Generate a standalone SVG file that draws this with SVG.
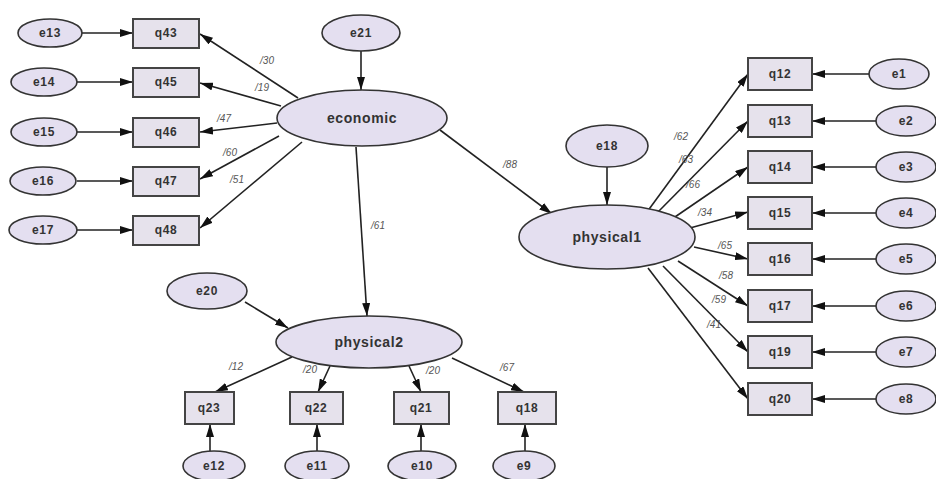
<svg xmlns="http://www.w3.org/2000/svg" width="936" height="479" viewBox="0 0 936 479">
<defs>
<marker id="ah" markerWidth="13" markerHeight="8" refX="13" refY="4" orient="auto" markerUnits="userSpaceOnUse">
<path d="M0,0 L13,4 L0,8 z" fill="#111"/>
</marker>
<style>
.lat{fill:#e4dff0;stroke:#333;stroke-width:1.6}
.obs{fill:#e6e2ec;stroke:#444;stroke-width:2}
.t{font-family:"Liberation Sans",Arial,sans-serif;font-weight:bold;font-size:12px;letter-spacing:0.6px;fill:#333;text-anchor:middle;dominant-baseline:central}
.big{font-size:14px}
.lbl{font-family:"Liberation Sans",Arial,sans-serif;font-style:italic;font-size:10px;fill:#555;text-anchor:middle}
.c line{stroke:#222;stroke-width:1.6;marker-end:url(#ah)}
</style>
</defs>
<rect width="936" height="479" fill="#fff"/>
<g class="c" id="connectors">
<line x1="82" y1="33" x2="133" y2="33"/>
<line x1="77" y1="82" x2="133" y2="82"/>
<line x1="77" y1="132" x2="133" y2="132"/>
<line x1="77" y1="181" x2="133" y2="181"/>
<line x1="77" y1="230" x2="133" y2="230"/>
<line x1="298" y1="98" x2="200" y2="34"/>
<line x1="281" y1="106" x2="200" y2="83"/>
<line x1="277" y1="123" x2="200" y2="132"/>
<line x1="279" y1="136" x2="200" y2="179"/>
<line x1="302" y1="142" x2="200" y2="228"/>
<line x1="361" y1="51" x2="361" y2="90"/>
<line x1="440" y1="130" x2="552" y2="214"/>
<line x1="356" y1="147" x2="367" y2="316"/>
<line x1="607" y1="167" x2="607" y2="205"/>
<line x1="647" y1="212" x2="748" y2="74"/>
<line x1="656" y1="214" x2="748" y2="121"/>
<line x1="672" y1="219" x2="748" y2="167"/>
<line x1="690" y1="228" x2="748" y2="212"/>
<line x1="694" y1="247" x2="748" y2="259"/>
<line x1="678" y1="261" x2="748" y2="306"/>
<line x1="663" y1="266" x2="748" y2="352"/>
<line x1="648" y1="268" x2="748" y2="399"/>
<line x1="869" y1="74" x2="812" y2="74"/>
<line x1="876" y1="121" x2="812" y2="121"/>
<line x1="876" y1="167" x2="812" y2="167"/>
<line x1="876" y1="213" x2="812" y2="213"/>
<line x1="876" y1="259" x2="812" y2="259"/>
<line x1="876" y1="306" x2="812" y2="306"/>
<line x1="876" y1="352" x2="812" y2="352"/>
<line x1="876" y1="399" x2="812" y2="399"/>
<line x1="245" y1="302" x2="288" y2="328"/>
<line x1="292" y1="357" x2="215" y2="392"/>
<line x1="330" y1="366" x2="318" y2="392"/>
<line x1="409" y1="366" x2="421" y2="392"/>
<line x1="452" y1="358" x2="524" y2="392"/>
<line x1="210" y1="451" x2="210" y2="424"/>
<line x1="317" y1="451" x2="317" y2="424"/>
<line x1="421" y1="451" x2="421" y2="424"/>
<line x1="525" y1="451" x2="525" y2="424"/>
</g>
<g id="labels">
<text class="lbl" x="267" y="64">/30</text>
<text class="lbl" x="262" y="91">/19</text>
<text class="lbl" x="224" y="122">/47</text>
<text class="lbl" x="230" y="156">/60</text>
<text class="lbl" x="237" y="183">/51</text>
<text class="lbl" x="510" y="168">/88</text>
<text class="lbl" x="378" y="229">/61</text>
<text class="lbl" x="681" y="140">/62</text>
<text class="lbl" x="686" y="163">/63</text>
<text class="lbl" x="693" y="188">/66</text>
<text class="lbl" x="705" y="216">/34</text>
<text class="lbl" x="725" y="249">/65</text>
<text class="lbl" x="726" y="279">/58</text>
<text class="lbl" x="719" y="303">/59</text>
<text class="lbl" x="714" y="328">/41</text>
<text class="lbl" x="236" y="370">/12</text>
<text class="lbl" x="310" y="373">/20</text>
<text class="lbl" x="433" y="374">/20</text>
<text class="lbl" x="507" y="371">/67</text>
</g>
<g id="e13"><ellipse class="lat" cx="50" cy="33" rx="32" ry="14"/><text class="t" x="50" y="33">e13</text></g>
<g id="e14"><ellipse class="lat" cx="44" cy="82" rx="33" ry="14"/><text class="t" x="44" y="82">e14</text></g>
<g id="e15"><ellipse class="lat" cx="44" cy="132" rx="33" ry="14"/><text class="t" x="44" y="132">e15</text></g>
<g id="e16"><ellipse class="lat" cx="43" cy="181" rx="33" ry="14"/><text class="t" x="43" y="181">e16</text></g>
<g id="e17"><ellipse class="lat" cx="43" cy="230" rx="34" ry="14"/><text class="t" x="43" y="230">e17</text></g>
<g id="q43"><rect class="obs" x="133" y="19" width="66" height="29"/><text class="t" x="166" y="33">q43</text></g>
<g id="q45"><rect class="obs" x="133" y="68" width="66" height="29"/><text class="t" x="166" y="82">q45</text></g>
<g id="q46"><rect class="obs" x="133" y="118" width="66" height="29"/><text class="t" x="166" y="132">q46</text></g>
<g id="q47"><rect class="obs" x="133" y="167" width="66" height="29"/><text class="t" x="166" y="181">q47</text></g>
<g id="q48"><rect class="obs" x="133" y="216" width="66" height="29"/><text class="t" x="166" y="230">q48</text></g>
<g id="e21"><ellipse class="lat" cx="361" cy="33" rx="39" ry="18"/><text class="t" x="361" y="33">e21</text></g>
<g id="economic"><ellipse class="lat" cx="362" cy="118" rx="85" ry="28"/><text class="t big" x="362" y="118">economic</text></g>
<g id="e18"><ellipse class="lat" cx="607" cy="146" rx="41" ry="21"/><text class="t" x="607" y="146">e18</text></g>
<g id="physical1"><ellipse class="lat" cx="607" cy="237" rx="88" ry="32"/><text class="t big" x="607" y="237">physical1</text></g>
<g id="q12"><rect class="obs" x="748" y="58" width="64" height="32"/><text class="t" x="780" y="74">q12</text></g>
<g id="q13"><rect class="obs" x="748" y="105" width="64" height="32"/><text class="t" x="780" y="121">q13</text></g>
<g id="q14"><rect class="obs" x="748" y="151" width="64" height="32"/><text class="t" x="780" y="167">q14</text></g>
<g id="q15"><rect class="obs" x="748" y="197" width="64" height="32"/><text class="t" x="780" y="213">q15</text></g>
<g id="q16"><rect class="obs" x="748" y="243" width="64" height="32"/><text class="t" x="780" y="259">q16</text></g>
<g id="q17"><rect class="obs" x="748" y="290" width="64" height="32"/><text class="t" x="780" y="306">q17</text></g>
<g id="q19"><rect class="obs" x="748" y="336" width="64" height="32"/><text class="t" x="780" y="352">q19</text></g>
<g id="q20"><rect class="obs" x="748" y="383" width="64" height="32"/><text class="t" x="780" y="399">q20</text></g>
<g id="e1"><ellipse class="lat" cx="899" cy="74" rx="30" ry="15"/><text class="t" x="899" y="74">e1</text></g>
<g id="e2"><ellipse class="lat" cx="906" cy="121" rx="30" ry="15"/><text class="t" x="906" y="121">e2</text></g>
<g id="e3"><ellipse class="lat" cx="906" cy="167" rx="30" ry="15"/><text class="t" x="906" y="167">e3</text></g>
<g id="e4"><ellipse class="lat" cx="906" cy="213" rx="30" ry="15"/><text class="t" x="906" y="213">e4</text></g>
<g id="e5"><ellipse class="lat" cx="906" cy="259" rx="30" ry="15"/><text class="t" x="906" y="259">e5</text></g>
<g id="e6"><ellipse class="lat" cx="906" cy="306" rx="30" ry="15"/><text class="t" x="906" y="306">e6</text></g>
<g id="e7"><ellipse class="lat" cx="906" cy="352" rx="30" ry="15"/><text class="t" x="906" y="352">e7</text></g>
<g id="e8"><ellipse class="lat" cx="906" cy="399" rx="30" ry="15"/><text class="t" x="906" y="399">e8</text></g>
<g id="e20"><ellipse class="lat" cx="207" cy="291" rx="40" ry="18"/><text class="t" x="207" y="291">e20</text></g>
<g id="physical2"><ellipse class="lat" cx="369" cy="342" rx="93" ry="26"/><text class="t big" x="369" y="342">physical2</text></g>
<g id="q23"><rect class="obs" x="185" y="392" width="49" height="32"/><text class="t" x="209" y="408">q23</text></g>
<g id="q22"><rect class="obs" x="290" y="392" width="53" height="32"/><text class="t" x="316" y="408">q22</text></g>
<g id="q21"><rect class="obs" x="394" y="392" width="55" height="32"/><text class="t" x="421" y="408">q21</text></g>
<g id="q18"><rect class="obs" x="498" y="392" width="58" height="32"/><text class="t" x="527" y="408">q18</text></g>
<g id="e12"><ellipse class="lat" cx="214" cy="466" rx="31" ry="15"/><text class="t" x="214" y="466">e12</text></g>
<g id="e11"><ellipse class="lat" cx="317" cy="466" rx="32" ry="15"/><text class="t" x="317" y="466">e11</text></g>
<g id="e10"><ellipse class="lat" cx="422" cy="466" rx="34" ry="15"/><text class="t" x="422" y="466">e10</text></g>
<g id="e9"><ellipse class="lat" cx="524" cy="466" rx="31" ry="15"/><text class="t" x="524" y="466">e9</text></g>
</svg>
